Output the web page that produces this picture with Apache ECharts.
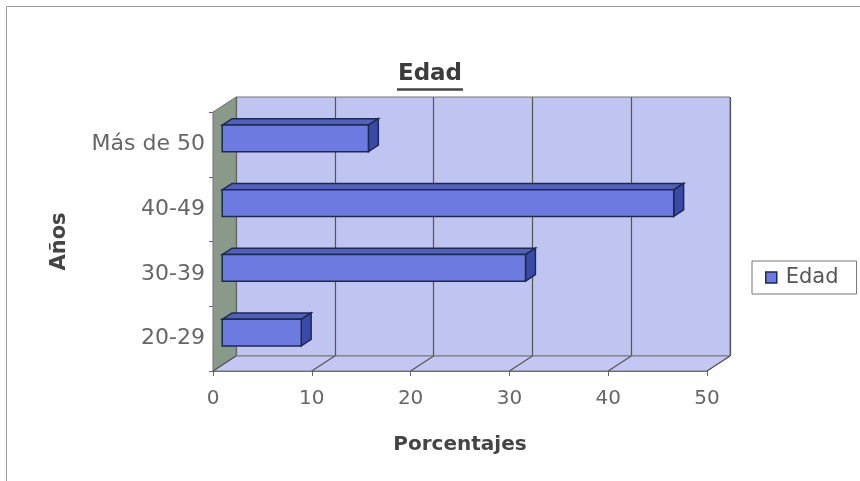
<!DOCTYPE html>
<html><head><meta charset="utf-8">
<script src="https://cdn.jsdelivr.net/npm/echarts@6/dist/echarts.min.js"></script>
<style>html,body{margin:0;padding:0;background:#fff}#c{width:860px;height:481px}</style>
</head><body><div id="c"></div>
<script>
const categories = ['20-29', '30-39', '40-49', 'Más de 50'];
const values = [8, 30.7, 45.7, 14.8];
const xTicks = [0, 10, 20, 30, 40, 50];
const seriesName = 'Edad';

const DX = 23, DY = -15;     // depth offset of the 3D box
const F1 = 0.4, F2 = 0.83;   // bar front / back depth fraction
const FONT = 'DejaVu Sans';

function barItem(params, api) {
  const v = api.value(0), c = api.value(1);
  const p0 = api.coord([0, c]);
  const p1 = api.coord([v, c]);
  const h = api.size([0, 1])[1] * 0.41;
  const x0 = p0[0] + DX * F1, x1 = p1[0] + DX * F1;
  const yc = p0[1] + DY * F1;
  const yt = yc - h / 2, yb = yc + h / 2;
  const dx = DX * (F2 - F1), dy = DY * (F2 - F1);
  const stroke = '#1c2a4e';
  return {type: 'group', children: [
    {type: 'polygon', shape: {points: [[x0, yt], [x0 + dx, yt + dy], [x1 + dx, yt + dy], [x1, yt]]}, style: {fill: '#5360b8', stroke: stroke, lineWidth: 1.5}},
    {type: 'polygon', shape: {points: [[x1, yt], [x1 + dx, yt + dy], [x1 + dx, yb + dy], [x1, yb]]}, style: {fill: '#3a4aa6', stroke: stroke, lineWidth: 1.5}},
    {type: 'rect', shape: {x: x0, y: yt, width: x1 - x0, height: h}, style: {fill: '#6d7be0', stroke: stroke, lineWidth: 1.5}}
  ]};
}

function wallItem(params, api) {
  const cs = params.coordSys;
  const L = cs.x, R = cs.x + cs.width, T = cs.y, B = cs.y + cs.height;
  const children = [
    {type: 'polygon', shape: {points: [[L, B], [R, B], [R + DX, B + DY], [L + DX, B + DY]]}, style: {fill: '#c3c7f1', stroke: '#777', lineWidth: 1}},
    {type: 'polygon', shape: {points: [[L, T], [L + DX, T + DY], [L + DX, B + DY], [L, B]]}, style: {fill: '#8a9a8a', stroke: '#777', lineWidth: 1}}
  ];
  xTicks.forEach(function (t) {
    const x = api.coord([t, 0])[0];
    children.push({type: 'line', shape: {x1: x, y1: B, x2: x + DX, y2: B + DY}, style: {stroke: '#555', lineWidth: 1.2}});
  });
  return {type: 'group', children: children};
}

const chart = echarts.init(document.getElementById('c'));
chart.setOption({
  animation: false,
  backgroundColor: '#fff',
  title: {
    text: 'Edad', left: 'center', top: 58,
    textStyle: {fontFamily: FONT, fontWeight: 'bold', fontSize: 23, color: '#3c3c3c'}
  },
  graphic: [
    {type: 'rect', shape: {x: 6.5, y: 6.5, width: 900, height: 500}, style: {fill: 'none', stroke: '#999', lineWidth: 1}, silent: true},
    {type: 'line', shape: {x1: 397, y1: 89.5, x2: 463, y2: 89.5}, style: {stroke: '#444', lineWidth: 2.5}, silent: true}
  ],
  legend: {
    data: [seriesName], left: 752, top: 261,
    icon: 'rect', itemWidth: 11, itemHeight: 11, itemGap: 6,
    padding: [6, 18, 6, 13],
    borderColor: '#777', borderWidth: 1,
    itemStyle: {borderColor: '#1c2a4e', borderWidth: 1.5},
    textStyle: {fontFamily: FONT, fontSize: 21, color: '#555', padding: [0, 0, 0, 4]}
  },
  grid: [
    {left: 213, right: 153, top: 112, bottom: 110},
    {left: 236, right: 130, top: 97, bottom: 125, show: true, backgroundColor: '#c0c4f0', borderColor: '#777', borderWidth: 1}
  ],
  xAxis: [
    {
      type: 'value', gridIndex: 0, min: 0, max: 50, interval: 10,
      name: 'Porcentajes', nameLocation: 'middle', nameGap: 64,
      nameTextStyle: {fontFamily: FONT, fontWeight: 'bold', fontSize: 20, color: '#444'},
      axisLine: {show: true, lineStyle: {color: '#666', width: 1.2}},
      axisTick: {show: true, length: 5, lineStyle: {color: '#666'}},
      axisLabel: {fontFamily: FONT, fontSize: 20, color: '#666', margin: 18},
      splitLine: {show: false}
    },
    {
      type: 'value', gridIndex: 1, min: 0, max: 50, interval: 10,
      axisLine: {show: false}, axisTick: {show: false}, axisLabel: {show: false},
      splitLine: {show: true, lineStyle: {color: '#555', width: 1.2}}
    }
  ],
  yAxis: [
    {
      type: 'category', gridIndex: 0, data: categories,
      name: 'Años', nameLocation: 'middle', nameGap: 143, nameRotate: 90,
      nameTextStyle: {fontFamily: FONT, fontWeight: 'bold', fontSize: 21, color: '#444'},
      axisLine: {show: true, lineStyle: {color: '#666', width: 1.2}},
      axisTick: {show: true, length: 4, lineStyle: {color: '#666'}},
      axisLabel: {fontFamily: FONT, fontSize: 22, color: '#666', margin: 8}
    },
    {type: 'value', gridIndex: 1, show: false, min: 0, max: 1}
  ],
  series: [
    {
      type: 'custom', xAxisIndex: 0, yAxisIndex: 0, z: 1, silent: true,
      renderItem: wallItem, data: [[0, 0]]
    },
    {
      type: 'custom', name: seriesName, xAxisIndex: 0, yAxisIndex: 0, z: 3,
      itemStyle: {color: '#6d7be0', borderColor: '#1c2a4e', borderWidth: 1.5},
      encode: {x: 0, y: 1},
      renderItem: barItem,
      data: values.map(function (v, i) { return [v, i]; })
    }
  ]
});
</script>
</body></html>
